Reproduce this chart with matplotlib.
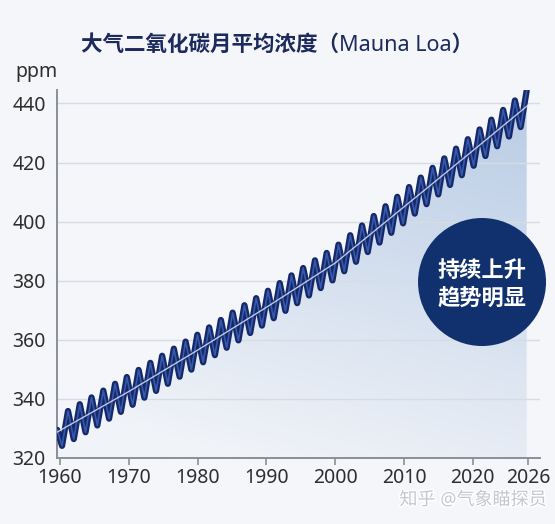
import numpy as np
import matplotlib
matplotlib.use('Agg')
import matplotlib.pyplot as plt
from matplotlib.patches import Ellipse
from matplotlib.colors import LinearSegmentedColormap
import matplotlib.patheffects as pe

plt.rcParams['font.family'] = ['Noto Sans', 'Noto Sans CJK SC']

# monthly CO2 zigzag: start point, then trough / peak pairs
zig_years = [1959.6,
             1960.29, 1961.16, 1962.00, 1962.87, 1963.71, 1964.58, 1965.42, 1966.29, 1967.13, 1968.00,
             1968.84, 1969.71, 1970.55, 1971.42, 1972.26, 1973.13, 1973.96, 1974.84, 1975.67, 1976.54,
             1977.38, 1978.25, 1979.09, 1979.96, 1980.80, 1981.67, 1982.51, 1983.38, 1984.22, 1985.09,
             1985.93, 1986.80, 1987.64, 1988.51, 1989.35, 1990.22, 1991.06, 1991.93, 1992.76, 1993.64,
             1994.47, 1995.34, 1996.18, 1997.05, 1997.89, 1998.76, 1999.60, 2000.47, 2001.31, 2002.18,
             2003.02, 2003.89, 2004.73, 2005.60, 2006.44, 2007.31, 2008.15, 2009.02, 2009.86, 2010.73,
             2011.56, 2012.44, 2013.27, 2014.15, 2014.98, 2015.85, 2016.69, 2017.56, 2018.40, 2019.27,
             2020.09, 2020.73, 2021.36, 2022.00, 2022.63, 2023.27, 2023.90, 2024.54, 2025.16, 2025.81]
zig_ppm = [329.5,
           324.1, 335.9, 326.4, 338.2, 328.7, 340.5, 331.0, 342.8, 333.3, 345.1,
           335.6, 347.4, 338.0, 349.8, 340.4, 352.2, 342.7, 354.6, 345.1, 357.0,
           347.5, 359.4, 349.9, 361.7, 352.4, 364.2, 354.8, 366.7, 357.3, 369.2,
           359.8, 371.7, 362.3, 374.1, 364.8, 376.6, 367.3, 379.2, 369.8, 381.8,
           372.4, 384.3, 375.0, 386.9, 377.5, 389.4, 380.1, 392.2, 383.2, 395.4,
           386.4, 398.7, 389.7, 401.9, 392.9, 405.2, 396.2, 408.4, 399.4, 411.7,
           402.7, 414.9, 405.9, 418.2, 409.2, 421.4, 412.4, 424.7, 415.7, 427.9,
           418.9, 431.2, 422.2, 434.5, 425.5, 437.8, 428.8, 441.0, 432.0, 444.3]

# smoothed trend through the middle of the zigzag
trend_years = [1959.6, 1970, 1980, 1990, 2000, 2010, 2020, 2026]
trend_ppm = [328.8, 342.5, 356.5, 371.0, 386.0, 405.0, 424.0, 439.5]

x_ticks = [1960, 1970, 1980, 1990, 2000, 2010, 2020, 2026]
y_ticks = [320, 340, 360, 380, 400, 420, 440]

# the last tick gap (2020-2026) is drawn wider than the others in the original
STRETCH = 1.347


def fwd(x):
    x = np.asarray(x, dtype=float)
    return np.where(x <= 2020, x, 2020 + (x - 2020) * STRETCH)


def inv(x):
    x = np.asarray(x, dtype=float)
    return np.where(x <= 2020, x, 2020 + (x - 2020) / STRETCH)


bg = '#f4f6f9'
fig = plt.figure(figsize=(5.55, 5.24), dpi=100, facecolor=bg)
ax = fig.add_axes([0.1027, 0.126, 0.8703, 0.702])
ax.set_facecolor(bg)
ax.set_xscale('function', functions=(fwd, inv))

# gradient fill under the curve
gy, gx = np.mgrid[0:1:300j, 0:1:300j]
g = np.clip(0.85 * gy + 0.3 * gx - 0.12, 0, 1)
cmap = LinearSegmentedColormap.from_list('fill', ['#f0f3f8', '#b9cce5'])
im = ax.imshow(g, cmap=cmap, origin='lower', extent=[0, 1, 0, 1],
               transform=ax.transAxes, aspect='auto', zorder=1,
               interpolation='bilinear', vmin=0, vmax=1)
poly = ax.fill_between(zig_years, zig_ppm, 320, facecolor='none', edgecolor='none')
im.set_clip_path(poly.get_paths()[0], ax.transData)

ax.plot(zig_years, zig_ppm, color='#152868', lw=4.5, solid_joinstyle='round',
        solid_capstyle='round', zorder=3)
ax.plot(zig_years, zig_ppm, color='#3659ad', lw=1.2, solid_joinstyle='round', zorder=4)
ax.plot(trend_years, trend_ppm, color='#e6edf8', lw=1.0, alpha=0.8, zorder=5)

ax.set_xlim(1959.56, 2027.25)
ax.set_ylim(320, 444.5)
ax.set_xticks(x_ticks)
ax.set_xticklabels([str(t) for t in x_ticks])
ax.set_yticks(y_ticks)
ax.minorticks_off()

ax.set_axisbelow('line')
ax.yaxis.grid(True, color='#d6dce4', lw=1.0)
ax.xaxis.grid(False)
for s in ['top', 'right']:
    ax.spines[s].set_visible(False)
for s in ['left', 'bottom']:
    ax.spines[s].set_color('#8b9097')
    ax.spines[s].set_linewidth(1.4)
ax.tick_params(axis='x', length=5, width=1.2, color='#8b9097', labelsize=14,
               labelcolor='#2e2e2e', pad=2)
ax.tick_params(axis='y', length=0, labelsize=14, labelcolor='#2e2e2e', pad=8)

fig.text(0.5, 0.914, '大气二氧化碳月平均浓度（Mauna Loa）', ha='center', va='center',
         fontsize=15.5, fontweight='bold', color='#1c2a5c')
fig.text(0.065, 0.862, 'ppm', ha='center', va='center', fontsize=14, color='#2e2e2e')

# badge
badge = Ellipse((0.8685, 0.4618), 0.2306, 0.2443, transform=fig.transFigure,
                facecolor='#11306e', edgecolor='none', zorder=10)
fig.patches.append(badge)
fig.text(0.8685, 0.454, '持续上升\n趋势明显', ha='center', va='center', fontsize=16,
         fontweight='bold', color='white', linespacing=1.45, zorder=11)

# watermark
fig.text(0.852, 0.046, '知乎 @气象瞄探员', ha='center', va='center', fontsize=13,
         color='#c3c8cf', zorder=12,
         path_effects=[pe.withStroke(linewidth=2, foreground='white')])

fig.savefig('out.png', dpi=100, facecolor=bg)
